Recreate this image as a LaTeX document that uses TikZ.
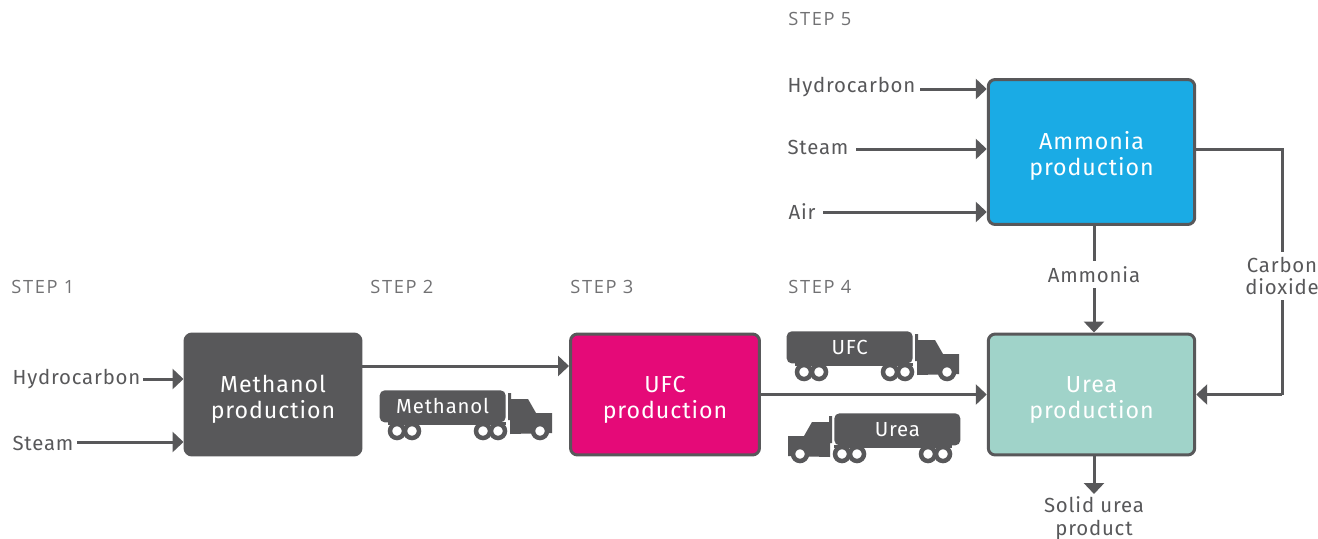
\documentclass[tikz,border=0pt]{standalone}
\usepackage{fontspec}
\setmainfont{Fira Sans}
\newfontfamily\spacedfont[LetterSpace=4]{Fira Sans}
\newfontfamily\stepfont[LetterSpace=9]{Open Sans}
\usetikzlibrary{positioning}
\usetikzlibrary{arrows.meta}
\definecolor{slate}{HTML}{58585A}
\definecolor{magentaf}{HTML}{E50A78}
\definecolor{bluef}{HTML}{1AABE5}
\definecolor{tealf}{HTML}{A0D3C9}
\newcommand{\toplift}{\rule{0pt}{1.12em}}
\tikzset{
    procbox/.style = {rectangle, rounded corners=0.14cm, line width=0.06cm, draw=slate, align=center, minimum height=2.42cm, text=white, font=\fontsize{13.2}{14.8}\selectfont\spacedfont},
    steplabel/.style = {anchor=west, inner sep=0pt, text=slate!85, font=\fontsize{10.4}{12}\selectfont\stepfont},
    inlabel/.style = {inner sep=0pt, align=center, text=slate, font=\fontsize{11.6}{13}\selectfont\spacedfont},
    tanklabel/.style = {rectangle, rounded corners=0.1cm, fill=slate, text=white, minimum width=2.52cm, minimum height=0.64cm, inner sep=0pt, font=\fontsize{11.6}{12}\selectfont\spacedfont},
    flow/.style = {-{Triangle[length=0.22cm,width=0.4cm]}, line width=0.06cm, slate},
    pipe/.style = {-, line width=0.06cm, slate},
    wheel/.style = {circle, fill=white, draw=slate, line width=0.09cm, minimum size=0.28cm, inner sep=0pt},
    pics/rig/.style = {code={
        % cab, seen from the tank's front end (0,0)
        \fill[slate] (2,3) -- (5,3) -- (5,9) -- (22,9) -- (30,23) -- (46,23) -- (46,43) -- (4,44) -- (4,30) -- (2,30) -- cycle;
        \fill[slate] (-118,32) rectangle (0,35);
        \foreach \wx in {-109,-94,-23,-8,34} {
            \node[wheel] at (\wx,41) {};
        }
    }}
}
\begin{document}
\begin{tikzpicture}[x=0.02cm,y=-0.02cm]
\path[use as bounding box] (0,0) rectangle (1318,538);
% process boxes
\node[procbox, fill=slate, minimum width=3.52cm] at (273,394.5) (meth) {\toplift Methanol\\production};
\node[procbox, fill=magentaf, minimum width=3.78cm] at (665,394.5) (ufc) {\toplift UFC\\production};
\node[procbox, fill=tealf, minimum width=4.13cm] at (1091.5,394.5) (urea) {\toplift Urea\\production};
\node[procbox, fill=bluef, minimum width=4.13cm, minimum height=2.9cm] at (1091.5,152) (amm) {\toplift Ammonia\\production};
% step titles
\node[steplabel] at (11,287) (step1) {STEP 1};
\node[steplabel] at (370,287) (step2) {STEP 2};
\node[steplabel] at (570,287) (step3) {STEP 3};
\node[steplabel] at (788,287) (step4) {STEP 4};
\node[steplabel] at (788,19) (step5) {STEP 5};
% feeds
\node[inlabel] at (76.5,379) (hc1) {Hydrocarbon};
\node[inlabel] at (43,443) (st1) {Steam};
\node[inlabel] at (851.5,87) (hc2) {Hydrocarbon};
\node[inlabel] at (818,147) (st2) {Steam};
\node[inlabel] at (802,212) (air) {Air};
\draw[flow] (143,379) coordinate (hc1a) -- (hc1a -| meth.west);
\draw[flow] (77,442) coordinate (st1a) -- (st1a -| meth.west);
\draw[flow] (920,89) coordinate (hc2a) -- (hc2a -| amm.west);
\draw[flow] (856,149) coordinate (st2a) -- (st2a -| amm.west);
\draw[flow] (823,212) coordinate (aira) -- (aira -| amm.west);
% main line
\coordinate (methout) at (362,366);
\draw[flow] (methout) -- (methout -| ufc.west);
\draw[flow] (ufc.east) -- (urea.west);
\coordinate (ammout) at (1094,225);
\draw[flow] (ammout) -- (ammout |- urea.north) node[pos=0.46, inlabel, fill=white, inner xsep=0.05cm, inner ysep=0.1cm] (ammlabel) {Ammonia};
\coordinate (cotop) at (1282,149);
\coordinate (cobot) at (1282,394.5);
\draw[pipe] (cotop -| amm.east) -- (cotop) -- (cobot);
\draw[flow] (cobot) -- (urea.east);
\node[inlabel, fill=white, inner ysep=0.1cm, inner xsep=0.05cm] at (1282,276) (colabel) {Carbon\\dioxide};
\coordinate (ureaout) at (1094,494);
\draw[flow] (ureaout |- urea.south) -- (ureaout);
\node[inlabel] at (1094,518.5) (solid) {Solid urea\\product};
% trucks
\pic at (506,390) {rig};
\node[tanklabel, anchor=north east] at (506,390) (tankm) {Methanol};
\pic at (913,331) {rig};
\node[tanklabel, anchor=north east] at (913,331) (tanku) {UFC};
\pic[xscale=-1] at (834,413) {rig};
\node[tanklabel, anchor=north west] at (834,413) (tankr) {Urea};
\end{tikzpicture}
\end{document}
